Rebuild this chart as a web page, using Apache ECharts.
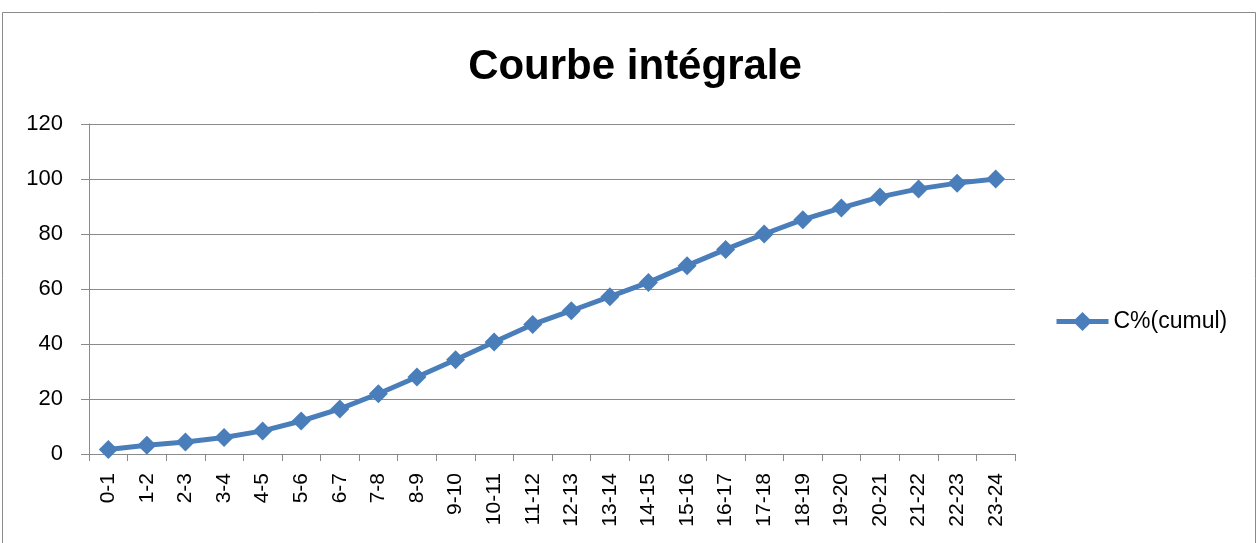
<!DOCTYPE html>
<html>
<head>
<meta charset="utf-8">
<title>Courbe intégrale</title>
<script src="https://cdn.jsdelivr.net/npm/echarts@6/dist/echarts.min.js"></script>
<style>
  html, body { margin: 0; padding: 0; background: #ffffff; }
  #chart { width: 1259px; height: 543px; }
</style>
</head>
<body>
<div id="chart"></div>
<script>
// time slots (hours)
const categories = ['0-1', '1-2', '2-3', '3-4', '4-5', '5-6', '6-7', '7-8', '8-9', '9-10', '10-11', '11-12',
  '12-13', '13-14', '14-15', '15-16', '16-17', '17-18', '18-19', '19-20', '20-21', '21-22', '22-23', '23-24']
// cumulative percentage
const cumul = [1.6, 3.2, 4.4, 6.0, 8.4, 12.0, 16.4, 21.9, 28.0, 34.3, 40.7, 47.1,
  52.1, 57.2, 62.4, 68.5, 74.4, 80.0, 85.2, 89.5, 93.5, 96.4, 98.5, 100]
const yTicks = [0, 20, 40, 60, 80, 100, 120]

const font = 'Liberation Sans, Arial, sans-serif'
const blue = '#4a7ebb'
const grey = '#8a8a8a'

const myChart = echarts.init(document.getElementById('chart'))
myChart.setOption({
  animation: false,
  textStyle: { fontFamily: font },
  title: {
    text: 'Courbe intégrale',
    left: 630,
    top: 41,
    textAlign: 'center',
    textStyle: { fontSize: 42, fontWeight: 'bold', color: '#000' }
  },
  graphic: [{
    type: 'rect',
    shape: { x: 2.5, y: 12.5, width: 1253, height: 540 },
    style: { fill: 'none', stroke: grey, lineWidth: 1 }
  }],
  legend: {
    data: ['C%(cumul)'],
    orient: 'vertical',
    left: 1054,
    top: 310,
    padding: 0,
    itemWidth: 52,
    itemHeight: 24,
    itemGap: 4,
    lineStyle: { width: 5 },
    textStyle: { fontSize: 23, color: '#000' }
  },
  grid: {
    left: 89,
    right: 244,
    top: 124,
    bottom: 89,
    containLabel: false
  },
  xAxis: {
    type: 'category',
    data: categories,
    boundaryGap: true,
    axisLine: { lineStyle: { color: grey, width: 1 } },
    axisTick: { show: true, length: 7, lineStyle: { color: grey } },
    axisLabel: { rotate: 90, fontSize: 21, color: '#000', margin: 19, interval: 0 },
    splitLine: { show: false }
  },
  yAxis: {
    type: 'value',
    min: yTicks[0],
    max: yTicks[yTicks.length - 1],
    interval: 20,
    axisLine: { show: true, lineStyle: { color: grey, width: 1 } },
    axisTick: { show: true, length: 8, lineStyle: { color: grey } },
    axisLabel: { fontSize: 22, color: '#000', margin: 26 },
    splitLine: { lineStyle: { color: grey, width: 1 } }
  },
  series: [{
    name: 'C%(cumul)',
    type: 'line',
    data: cumul,
    symbol: 'diamond',
    symbolSize: 19,
    lineStyle: { color: blue, width: 5 },
    itemStyle: { color: blue }
  }]
})
</script>
</body>
</html>
